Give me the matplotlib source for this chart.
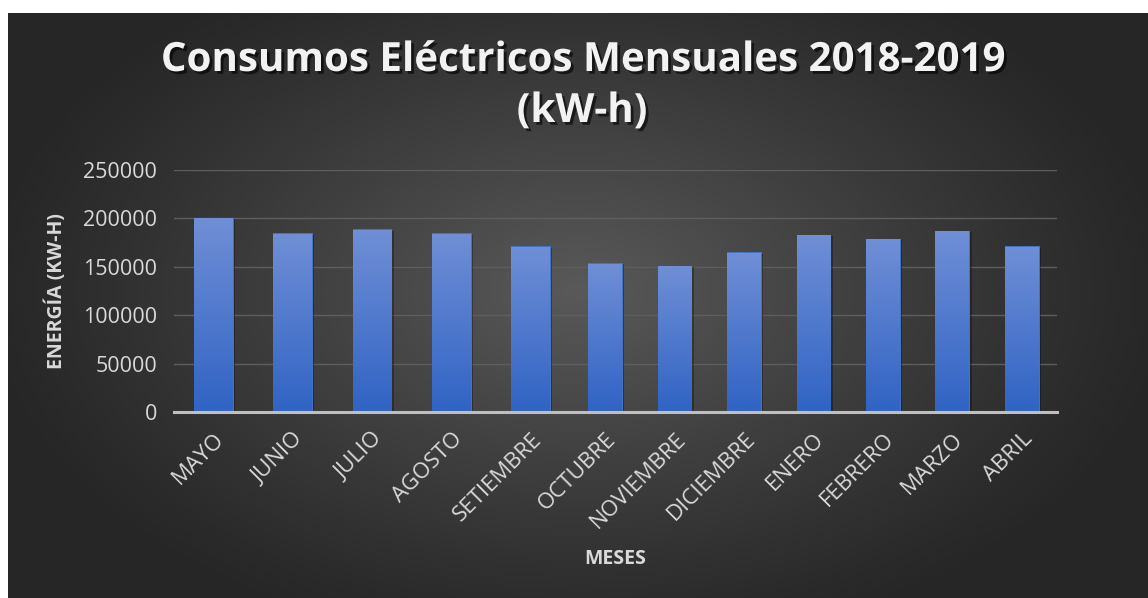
import numpy as np
import matplotlib.pyplot as plt
import matplotlib.patheffects as pe

meses = ['MAYO', 'JUNIO', 'JULIO', 'AGOSTO', 'SETIEMBRE', 'OCTUBRE',
         'NOVIEMBRE', 'DICIEMBRE', 'ENERO', 'FEBRERO', 'MARZO', 'ABRIL']
consumo = [200500, 184600, 188700, 184600, 171200, 153900,
           151200, 165000, 183200, 179000, 187300, 171200]
y_ticks = [0, 50000, 100000, 150000, 200000, 250000]

plt.rcParams['font.family'] = ['Open Sans', 'DejaVu Sans']

W, H = 1148, 598
fig = plt.figure(figsize=(W / 100, H / 100), dpi=100)
fig.patch.set_facecolor('white')

# dark radial background, white strip on the top and left edges
bg = fig.add_axes([8 / W, 0, 1 - 8 / W, 1 - 13 / H], zorder=-10)
gx, gy = np.meshgrid(np.linspace(-1, 1, 400), np.linspace(-1, 1, 300))
r = np.sqrt(((gx - 0.0) / 1.05) ** 2 + ((gy + 0.05) / 1.25) ** 2)
shade = np.clip(1 - r, 0, 1) ** 1.1
grey = 0.15 + 0.20 * shade
bg.imshow(np.dstack([grey, grey, grey]), aspect='auto', extent=[0, 1, 0, 1], interpolation='bicubic')
bg.axis('off')


# the source picture is stretched more on the left months than the right ones
def fwd(x):
    x = np.asarray(x, dtype=float)
    return np.where(x <= 4.5, x * 80.0, 360.0 + (x - 4.5) * 70.0)


def inv(v):
    v = np.asarray(v, dtype=float)
    return np.where(v <= 360.0, v / 80.0, 4.5 + (v - 360.0) / 70.0)


ax = fig.add_axes([174 / W, 1 - 412 / H, (1057 - 174) / W, (412 - 170) / H])
ax.set_facecolor('none')
ax.set_xscale('function', functions=(fwd, inv))

x = np.arange(len(meses))
bars = ax.bar(x, consumo, width=0.5, color='#4472c4', zorder=2)

# vertical gradient inside every bar
grad = np.linspace(0, 1, 256).reshape(-1, 1)
top = np.array([0.44, 0.56, 0.84])
bot = np.array([0.19, 0.39, 0.77])
img = (bot + (top - bot) * grad[:, :, None] * np.ones((1, 1, 3)))
for b in bars:
    bx, by = b.get_x(), b.get_y()
    im = ax.imshow(img, origin='lower', aspect='auto',
                   extent=[bx, bx + b.get_width(), by, by + b.get_height()], zorder=3)
    im.set_clip_path(b)
    b.set_path_effects([pe.SimplePatchShadow(offset=(1, -1), shadow_rgbFace='black', alpha=0.3), pe.Normal()])

ax.set_xlim(-0.5, 11.5)
ax.set_ylim(0, 250000)
ax.set_yticks(y_ticks)
ax.set_yticklabels([str(v) for v in y_ticks])
ax.set_xticks(x)
ax.set_xticklabels(meses, rotation=45, ha='right', rotation_mode='anchor')

ax.grid(axis='y', color='#5e5e5e', linewidth=1.0, zorder=0)
ax.set_axisbelow(True)
for side in ['top', 'right', 'left']:
    ax.spines[side].set_visible(False)
ax.spines['bottom'].set_color('#bfbfbf')
ax.spines['bottom'].set_linewidth(2.2)
ax.spines['bottom'].set_zorder(5)
ax.tick_params(axis='both', length=0, colors='#d9d9d9')
ax.tick_params(axis='y', pad=12, labelsize=15.5)
ax.tick_params(axis='x', pad=12, labelsize=16)

ax.set_ylabel('ENERGÍA (KW-H)', color='#d9d9d9', fontsize=14, fontweight='bold', labelpad=12)
ax.set_xlabel('MESES', color='#d9d9d9', fontsize=14, fontweight='bold', labelpad=12)

fig.text(582 / W, 1 - 86 / H, 'Consumos Eléctricos Mensuales 2018-2019\n(kW-h)',
         ha='center', va='center', multialignment='center', linespacing=1.4,
         fontsize=29, fontweight='bold', color='#f2f2f2',
         path_effects=[pe.withSimplePatchShadow(offset=(2, -2), shadow_rgbFace='black', alpha=0.6)])

fig.savefig('out.png', dpi=100)
